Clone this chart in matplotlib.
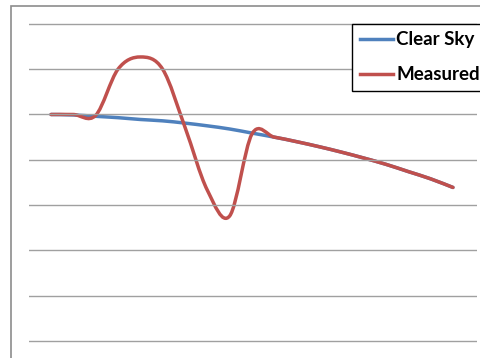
import numpy as np
import matplotlib
matplotlib.use("Agg")
import matplotlib.pyplot as plt
from matplotlib.path import Path
from matplotlib.patches import PathPatch, Rectangle
from matplotlib.lines import Line2D

# data (grid unit = 1)
points = list(range(19))
clear_sky = [5.0, 4.99, 4.96, 4.93, 4.89, 4.86, 4.81, 4.75, 4.68, 4.59,
             4.50, 4.40, 4.29, 4.17, 4.04, 3.90, 3.74, 3.58, 3.39]
measured = [5.0, 5.0, 4.98, 6.0, 6.27, 6.0, 4.72, 3.33, 2.76, 4.57,
            4.50, 4.40, 4.29, 4.17, 4.04, 3.90, 3.74, 3.58, 3.39]
series_names = ["Clear Sky", "Measured"]
series_colors = ["#4F81BD", "#C0504D"]

W, H = 481, 358


def smooth_path(x, y):
    """Excel-style smoothed line: cubic Bezier through every point"""
    pts = np.column_stack([x, y]).astype(float)
    ext = np.vstack([pts[0], pts, pts[-1]])
    verts = [pts[0]]
    codes = [Path.MOVETO]
    for i in range(len(pts) - 1):
        p0, p1, p2, p3 = ext[i], ext[i + 1], ext[i + 2], ext[i + 3]
        verts += [p1 + (p2 - p0) / 6, p2 - (p3 - p1) / 6, p2]
        codes += [Path.CURVE4] * 3
    return Path(verts, codes)


fig = plt.figure(figsize=(W / 100, H / 100), dpi=100)
fig.patch.set_facecolor("white")

# chart area border (left + top visible, rest cropped)
fig.add_artist(Rectangle((11 / W, -0.5), 2, 1 - 6 / H + 0.5, transform=fig.transFigure,
                         fill=False, edgecolor="#8c8c8c", linewidth=1.2))

ax = fig.add_axes([29 / W, 0, (477 - 29) / W, 1 - 10 / H])
ax.set_xlim((29 - 51) / 22.33, (477 - 51) / 22.33)
ax.set_ylim((341 - 358) / 45.3, (341 - 10) / 45.3)
ax.set_yticks(range(8))
ax.set_xticks([])
ax.grid(axis="y", color="#a0a0a0", linewidth=1.0)
ax.tick_params(length=0, labelleft=False, labelbottom=False)
for s in ax.spines.values():
    s.set_visible(False)
ax.set_facecolor("none")

handles = []
for vals, name, col in zip([clear_sky, measured], series_names, series_colors):
    ax.add_patch(PathPatch(smooth_path(points, vals), facecolor="none", edgecolor=col,
                           linewidth=2.5, capstyle="round", joinstyle="round"))
    handles.append(Line2D([], [], color=col, linewidth=2.5, label=name))

leg = ax.legend(handles=handles, loc="upper left", bbox_to_anchor=(352 / W, 1 - 24 / H),
                bbox_transform=fig.transFigure, frameon=True, fancybox=False,
                framealpha=1, edgecolor="black", borderaxespad=0, borderpad=0.4,
                handlelength=1.8, handletextpad=0.15, labelspacing=0.95,
                prop={"family": ["Lato", "DejaVu Sans"], "weight": "bold", "size": 13.5})
leg.get_frame().set_linewidth(1.0)

fig.savefig("out.png", dpi=100)
